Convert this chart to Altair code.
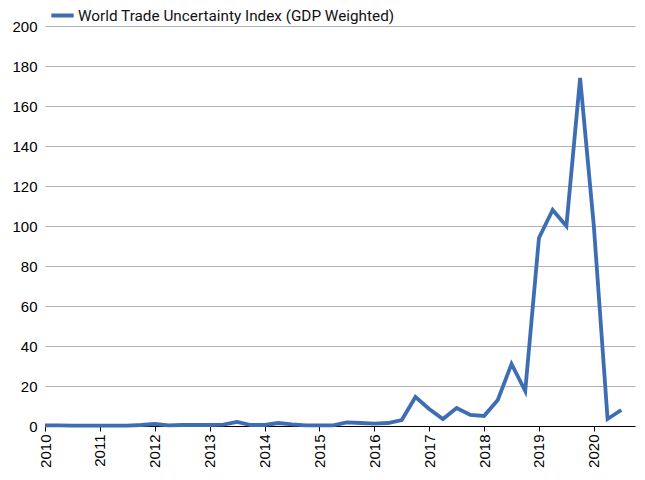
import altair as alt
import pandas as pd

years = [2010]*4 + [2011]*4 + [2012]*4 + [2013]*4 + [2014]*4 + [2015]*4 + [2016]*4 + [2017]*4 + [2018]*4 + [2019]*4 + [2020]*3
quarters = [1, 2, 3, 4]*10 + [1, 2, 3]
values = [
    0.3, 0.3, 0.2, 0.2,
    0.2, 0.2, 0.2, 0.5,
    1.0, 0.3, 0.5, 0.5,
    0.5, 0.7, 2.0, 0.5,
    0.5, 1.5, 0.8, 0.3,
    0.3, 0.3, 1.8, 1.5,
    1.2, 1.5, 3.0, 14.5,
    8.5, 3.5, 9.0, 5.5,
    5.0, 13.0, 31.0, 17.5,
    94.0, 108.0, 100.0, 174.0,
    100.0, 3.5, 8.0,
]
series_name = "World Trade Uncertainty Index (GDP Weighted)"
year_ticks = list(range(2010, 2021))
y_ticks = list(range(0, 201, 20))

df = pd.DataFrame({"year": years, "quarter": quarters, "value": values})
df["t"] = df["year"] + (df["quarter"] - 1) / 4
df["series"] = series_name

chart = alt.Chart(df).mark_line(strokeWidth=3.8, strokeJoin="miter").encode(
    x=alt.X("t:Q",
            scale=alt.Scale(domain=[2010, 2020.75], nice=False, zero=False),
            axis=alt.Axis(values=year_ticks, format="d", title=None, grid=False,
                          labelAngle=-90, labelAlign="right", labelBaseline="middle",
                          labelPadding=3, tickSize=5, tickColor="black", domainColor="black",
                          labelFont="Liberation Sans", labelFontSize=15, labelColor="black",
                          labelOverlap=False, labelFlush=False)),
    y=alt.Y("value:Q",
            scale=alt.Scale(domain=[0, 200], nice=False),
            axis=alt.Axis(values=y_ticks, title=None, domain=False, ticks=False,
                          gridColor="#ADB2B8", gridWidth=1, labelPadding=8,
                          labelFont="Liberation Sans", labelFontSize=15, labelColor="black")),
    color=alt.Color("series:N",
                    scale=alt.Scale(range=["#3D6DB3"]),
                    legend=alt.Legend(title=None, orient="none", legendX=4, legendY=-24,
                                      symbolType="stroke", symbolStrokeWidth=4, symbolSize=500,
                                      labelFont="Roboto", labelFontSize=15.3, labelColor="#111",
                                      labelOffset=2, labelLimit=0)),
).properties(
    width=590, height=400,
    autosize=alt.AutoSizeParams(type="none"),
    padding={"left": 37, "top": 18, "right": 2, "bottom": 46},
).configure_view(stroke=None)

chart.save("out.html", embed_options={"renderer": "svg", "actions": False})
